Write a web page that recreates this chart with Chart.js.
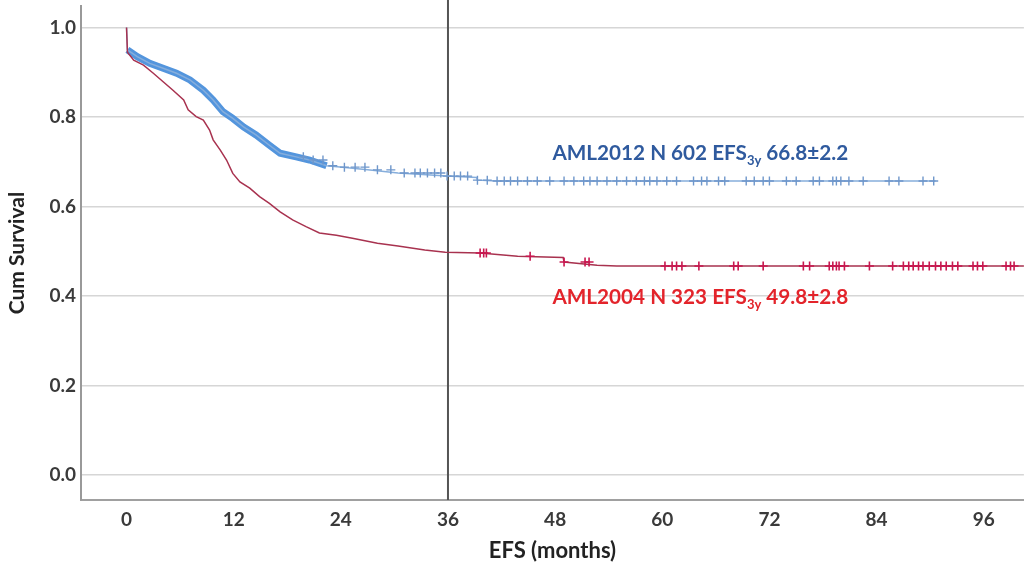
<!DOCTYPE html>
<html>
<head>
<meta charset="utf-8">
<script src="https://cdn.jsdelivr.net/npm/chart.js@4.4.0/dist/chart.umd.min.js"></script>
<style>
  html, body { margin: 0; padding: 0; background: #fff; }
  #wrap { width: 1030px; height: 570px; }
</style>
</head>
<body>
<div id="wrap"><canvas id="km"></canvas></div>
<script>
// Kaplan-Meier event-free survival, AML2004 vs AML2012
const xTicks = [0, 12, 24, 36, 48, 60, 72, 84, 96];
const yTicks = [0, 0.2, 0.4, 0.6, 0.8, 1.0];
const landmarkMonth = 36;

const aml2004Months = [0, 0.1, 0.8, 1.9, 3.0, 4.1, 5.2, 6.4, 6.9, 7.8, 8.6, 9.3, 9.7, 10.5, 11.2, 11.9,
  12.7, 13.8, 14.9, 16.0, 17.2, 18.6, 20.1, 21.6, 23.5, 25.3, 28.1, 30.4, 33.4, 35.7, 39.6, 43.8,
  48.9, 49.0, 52.7, 54.9, 100.5];
const aml2004Surv = [1.0, 0.945, 0.927, 0.916, 0.898, 0.879, 0.860, 0.838, 0.816, 0.801, 0.793, 0.771,
  0.749, 0.726, 0.704, 0.674, 0.655, 0.641, 0.622, 0.607, 0.588, 0.570, 0.555, 0.541, 0.536, 0.529,
  0.518, 0.512, 0.503, 0.498, 0.496, 0.489, 0.486, 0.476, 0.469, 0.467, 0.467];
const aml2004Censored = [39.6, 40.0, 40.3, 45.2, 49.0, 51.35, 51.8, 60.3, 61.1, 61.6, 62.2, 64.1, 68.0,
  68.5, 71.3, 75.8, 76.5, 78.7, 79.1, 79.5, 79.8, 80.4, 83.2, 85.8, 87.0, 87.6, 88.1, 88.7, 89.2, 89.9,
  90.6, 91.2, 91.8, 92.5, 93.1, 94.8, 95.3, 95.9, 98.5, 99.0, 99.4];

const aml2012Months = [0, 0.1, 1.2, 2.6, 4.1, 5.6, 7.1, 8.6, 9.7, 10.8, 11.9, 13.1, 14.5, 16.0, 17.2,
  19.0, 20.5, 22.4, 24.2, 27.0, 30.4, 35.9, 39.2, 39.3, 41.5, 90.6];
const aml2012Surv = [1.0, 0.95, 0.935, 0.920, 0.909, 0.898, 0.883, 0.860, 0.838, 0.812, 0.797, 0.778,
  0.760, 0.737, 0.719, 0.711, 0.704, 0.691, 0.688, 0.682, 0.675, 0.668, 0.665, 0.659, 0.657, 0.657];
const aml2012Censored = [19.8, 20.9, 22.0, 23.1, 24.4, 25.6, 26.7, 28.1, 29.6, 31.1, 32.3, 32.9, 33.7,
  34.5, 35.2, 35.9, 36.7, 37.4, 38.2, 39.3, 40.4, 41.5, 42.3, 43.0, 43.8, 44.9, 46.0, 47.4, 49.0, 50.1,
  51.2, 51.9, 52.7, 53.8, 54.9, 56.0, 57.1, 58.0, 58.6, 59.4, 60.5, 61.6, 63.5, 64.4, 65.0, 66.3, 67.0,
  69.4, 70.3, 71.3, 72.0, 73.9, 75.0, 76.9, 77.6, 79.1, 79.5, 80.0, 80.9, 82.5, 85.4, 86.5, 89.2, 90.4];
// early part of the AML2012 curve is packed with censor ticks
const aml2012DenseUntil = 23;

const labelNames = ['AML2012 N 602 EFS', 'AML2004 N 323 EFS'];
const labelStats = [' 66.8±2.2', ' 49.8±2.8'];
const labelSub = '3y';

const toPoints = (xs, ys) => xs.map((x, i) => ({ x: x, y: ys[i] }));

function survAt(xs, ys, t) {
  let v = ys[0];
  for (let i = 0; i < xs.length; i++) {
    if (xs[i] <= t) v = ys[i];
  }
  return v;
}

const censorPoints = (times, xs, ys) => times.map(t => ({ x: t, y: survAt(xs, ys, t) }));

const FONT = 'Lato, "Open Sans", sans-serif';

// vertical landmark line and the group labels
const overlay = {
  id: 'overlay',
  beforeDatasetsDraw(chart) {
    const { ctx, chartArea, scales } = chart;
    const x = scales.x.getPixelForValue(landmarkMonth);
    ctx.save();
    ctx.strokeStyle = '#555';
    ctx.lineWidth = 2;
    ctx.beginPath();
    ctx.moveTo(x, 0);
    ctx.lineTo(x, chartArea.bottom);
    ctx.stroke();
    ctx.restore();
  },
  afterDatasetsDraw(chart) {
    const { ctx, scales } = chart;
    const spots = [[47.7, 0.72, '#2f5a9e'], [47.7, 0.398, '#e3242b']];
    ctx.save();
    ctx.textBaseline = 'alphabetic';
    spots.forEach((s, i) => {
      let x = scales.x.getPixelForValue(s[0]);
      const y = scales.y.getPixelForValue(s[1]) + 7;
      ctx.fillStyle = s[2];
      ctx.font = 'bold 20.7px ' + FONT;
      ctx.fillText(labelNames[i], x, y);
      x += ctx.measureText(labelNames[i]).width;
      ctx.font = 'bold 13px ' + FONT;
      ctx.fillText(labelSub, x, y + 5);
      x += ctx.measureText(labelSub).width;
      ctx.font = 'bold 20.7px ' + FONT;
      ctx.fillText(labelStats[i], x, y);
    });
    ctx.restore();
  }
};

new Chart(document.getElementById('km'), {
  type: 'scatter',
  data: {
    datasets: [
      {
        label: 'AML2004 censored',
        data: censorPoints(aml2004Censored, aml2004Months, aml2004Surv),
        showLine: false,
        pointStyle: 'cross',
        pointRadius: 4.5,
        borderColor: '#c8174f',
        borderWidth: 1.6
      },
      {
        label: 'AML2004',
        data: toPoints(aml2004Months, aml2004Surv),
        showLine: true,
        borderColor: '#a8324f',
        borderWidth: 1.5,
        pointRadius: 0,
        tension: 0
      },
      {
        label: 'AML2012 censored',
        data: censorPoints(aml2012Censored, aml2012Months, aml2012Surv),
        showLine: false,
        pointStyle: 'cross',
        pointRadius: 4.5,
        borderColor: '#6f97cb',
        borderWidth: 1.4
      },
      {
        label: 'AML2012',
        data: toPoints(aml2012Months, aml2012Surv),
        showLine: true,
        borderColor: '#86aedc',
        borderWidth: 1.5,
        pointRadius: 0,
        tension: 0
      },
      {
        label: 'AML2012 dense',
        data: toPoints(aml2012Months, aml2012Surv).filter(p => p.x > 0 && p.x <= aml2012DenseUntil),
        showLine: true,
        borderColor: '#5395dd',
        borderWidth: 7,
        pointRadius: 0,
        tension: 0
      }
    ]
  },
  options: {
    responsive: true,
    maintainAspectRatio: false,
    animation: false,
    layout: { padding: { top: 1, right: 2, left: 0, bottom: 0 } },
    plugins: {
      legend: { display: false },
      tooltip: { enabled: false }
    },
    scales: {
      x: {
        type: 'linear',
        min: -5.1,
        max: 100.5,
        afterBuildTicks: s => { s.ticks = xTicks.map(v => ({ value: v })); },
        afterFit: s => { s.height = 70; },
        grid: { color: 'rgba(0,0,0,0)', drawTicks: false },
        border: { color: '#a0a0a0', width: 2 },
        ticks: {
          color: '#3a3a3a',
          padding: 8,
          maxRotation: 0,
          font: { family: FONT, size: 19, weight: 'bold' },
          callback: v => String(v)
        },
        title: {
          display: true,
          text: 'EFS (months)',
          color: '#222',
          font: { family: FONT, size: 22, weight: 'bold' },
          padding: { top: 0, bottom: 6 }
        }
      },
      y: {
        type: 'linear',
        min: -0.056,
        max: 1.048,
        afterBuildTicks: s => { s.ticks = yTicks.map(v => ({ value: v })); },
        afterFit: s => {
          s.width = 81;
          s.paddingTop = 0;
          s.paddingBottom = 0;
        },
        grid: { color: '#d6d6d6', lineWidth: 1.5, drawTicks: false },
        border: { color: '#999', width: 2 },
        ticks: {
          color: '#3a3a3a',
          padding: 5,
          font: { family: FONT, size: 19, weight: 'bold' },
          callback: v => v.toFixed(1)
        },
        title: {
          display: true,
          text: 'Cum Survival',
          color: '#222',
          font: { family: FONT, size: 21, weight: 'bold' },
          padding: { top: 5, bottom: 0 }
        }
      }
    }
  },
  plugins: [overlay]
});
</script>
</body>
</html>
